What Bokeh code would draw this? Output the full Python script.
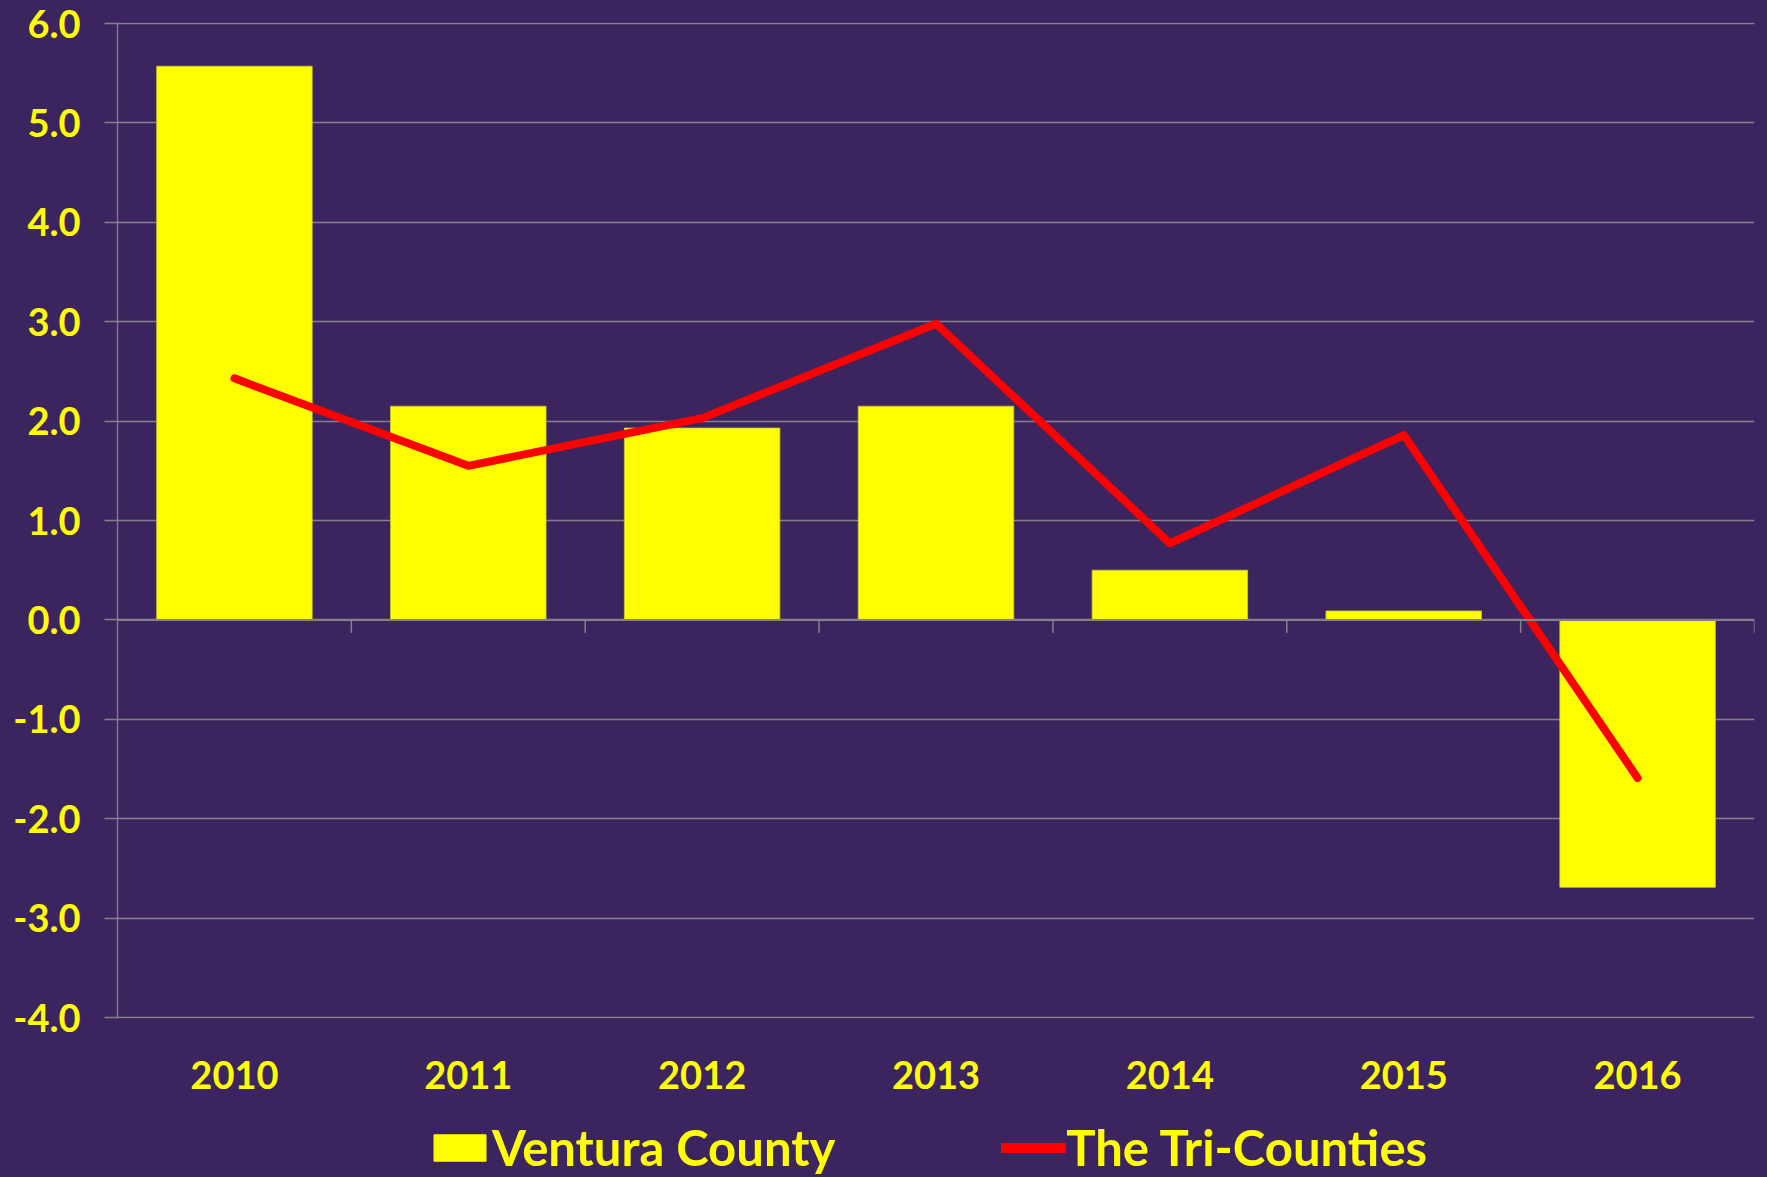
from bokeh.plotting import figure
from bokeh.layouts import column
from bokeh.models import (Range1d, FixedTicker, Span, Legend, LegendItem,
                          PrintfTickFormatter)
from bokeh.embed import file_html
from bokeh.resources import INLINE

# ---- data ----
years = ["2010", "2011", "2012", "2013", "2014", "2015", "2016"]
ventura = [5.57, 2.15, 1.93, 2.15, 0.50, 0.09, -2.69]
tri_counties = [2.43, 1.55, 2.03, 2.98, 0.77, 1.86, -1.59]
y_ticks = [-4, -3, -2, -1, 0, 1, 2, 3, 4, 5, 6]
series_names = ["Ventura County", "The Tri-Counties"]

BG = "#3C245E"
GRID = "#85808F"
YELLOW = "#FFFF00"
RED = "#FF0000"
FONT = "Lato"

n = len(years)
centers = [i + 0.5 for i in range(n)]
boundaries = [i + 1 for i in range(n)]

W = 1767
H1, H2 = 1110, 67
LEFT, RIGHT, TOP, BOTTOM = 117, 13, 22, 92
frame_h = H1 - TOP - BOTTOM
span_units = max(y_ticks) - min(y_ticks)
px_per_unit = (frame_h - 2) / span_units
pad = 1 / px_per_unit  # one pixel so the edge gridlines are not clipped

p = figure(width=W, height=H1, output_backend="svg", toolbar_location=None,
           x_range=Range1d(0, n),
           y_range=Range1d(min(y_ticks) - pad, max(y_ticks) + pad),
           min_border_left=LEFT, min_border_right=RIGHT, min_border_top=TOP,
           min_border_bottom=BOTTOM)
p.background_fill_color = BG
p.border_fill_color = None
p.outline_line_color = None

# grid
p.xgrid.visible = False
p.ygrid.ticker = FixedTicker(ticks=y_ticks)
p.ygrid.grid_line_color = GRID
p.ygrid.grid_line_width = 1.3

# y axis
p.yaxis.ticker = FixedTicker(ticks=y_ticks)
p.yaxis.formatter = PrintfTickFormatter(format="%.1f")
p.yaxis.axis_line_color = GRID
p.yaxis.axis_line_width = 1.3
p.yaxis.major_tick_line_color = GRID
p.yaxis.major_tick_line_width = 1.3
p.yaxis.major_tick_out = 13
p.yaxis.major_tick_in = 0
p.yaxis.minor_tick_line_color = None
p.yaxis.major_label_text_font = FONT
p.yaxis.major_label_text_font_style = "bold"
p.yaxis.major_label_text_font_size = "38px"
p.yaxis.major_label_text_color = YELLOW
p.yaxis.major_label_standoff = 24

# x axis
p.xaxis.ticker = FixedTicker(ticks=centers)
p.xaxis.major_label_overrides = {c: y for c, y in zip(centers, years)}
p.xaxis.axis_line_color = None
p.xaxis.major_tick_line_color = None
p.xaxis.minor_tick_line_color = None
p.xaxis.major_tick_out = 0
p.xaxis.major_tick_in = 0
p.xaxis.major_label_text_font = FONT
p.xaxis.major_label_text_font_style = "bold"
p.xaxis.major_label_text_font_size = "38px"
p.xaxis.major_label_text_color = YELLOW
p.xaxis.major_label_standoff = 42

# bars
bars = p.vbar(x=centers, top=ventura, bottom=0, width=0.665,
              fill_color=YELLOW, line_color="#C9C92A", line_width=0.8)

# zero line with category boundary ticks
p.add_layout(Span(location=0, dimension="width", line_color=GRID, line_width=2))
p.segment(x0=boundaries, x1=boundaries, y0=[0] * n,
          y1=[-13 / px_per_unit] * n, line_color=GRID, line_width=1.5)

# line
p.line(x=centers, y=tri_counties, line_color=RED, line_width=8,
       line_cap="round", line_join="round")

# ---- legend strip ----
lg = figure(width=W, height=H2, output_backend="svg", toolbar_location=None,
            x_range=Range1d(0, 1), y_range=Range1d(0, 1),
            x_axis_location=None, y_axis_location=None,
            min_border_left=LEFT, min_border_right=RIGHT,
            min_border_top=0, min_border_bottom=0)
lg.background_fill_color = BG
lg.border_fill_color = None
lg.outline_line_color = None
lg.grid.visible = False
sw_bar = lg.vbar(x=[-5], top=[-5], bottom=[-6], width=0.1,
                 fill_color=YELLOW, line_color=YELLOW)
sw_line = lg.line(x=[-5, -4], y=[-5, -5], line_color=RED, line_width=10,
                  line_cap="round")
legend = Legend(items=[LegendItem(label=series_names[0], renderers=[sw_bar]),
                       LegendItem(label=series_names[1], renderers=[sw_line])],
                orientation="horizontal", location=(310, 1),
                background_fill_alpha=0, border_line_alpha=0,
                label_text_font=FONT, label_text_font_style="bold",
                label_text_font_size="49px", label_text_color=YELLOW,
                label_text_line_height=0.8,
                glyph_width=65, glyph_height=33, label_standoff=0,
                spacing=166, padding=0, margin=0)
lg.add_layout(legend, "center")

layout = column(p, lg, spacing=0)
html = file_html(layout, INLINE)
html = html.replace("</head>",
                    "<style>html, body { background-color: %s; }</style></head>" % BG, 1)
open("out.html", "w").write(html)
